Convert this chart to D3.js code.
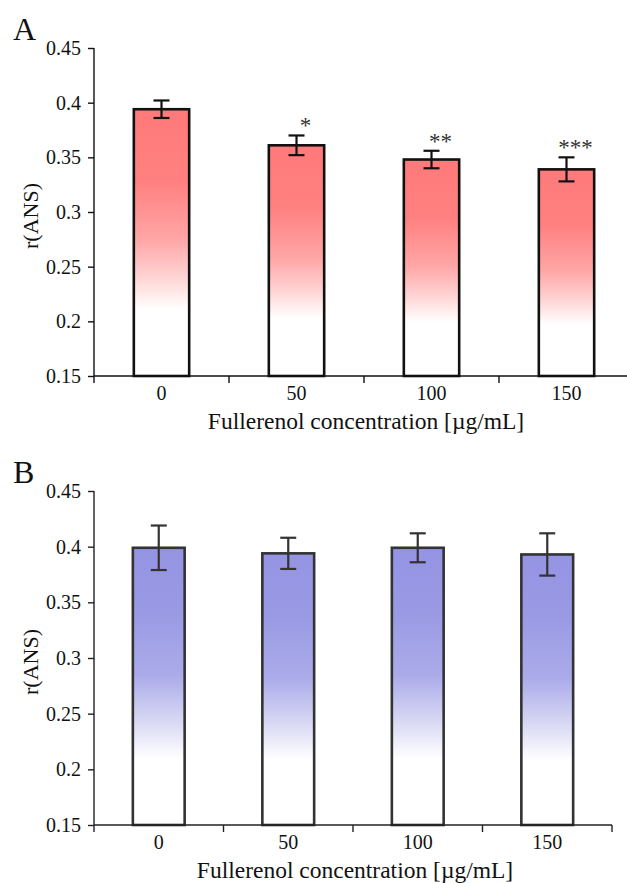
<!DOCTYPE html>
<html><head><meta charset="utf-8">
<script src="https://cdn.jsdelivr.net/npm/d3@7"></script>
<style>body{margin:0;background:#fff}svg{display:block}text{font-family:"Liberation Serif","Times New Roman",serif}</style>
</head><body><svg id="c" width="627" height="883"></svg>
<script>
const categories = ["0", "50", "100", "150"];
const valuesA = [0.394, 0.361, 0.348, 0.339];
const errorsA = [0.008, 0.009, 0.008, 0.011];
const starsA = ["", "*", "**", "***"];
const valuesB = [0.399, 0.394, 0.399, 0.393];
const errorsB = [0.020, 0.014, 0.013, 0.019];
const starsB = ["", "", "", ""];
const yTicks = [0.15, 0.2, 0.25, 0.3, 0.35, 0.4, 0.45];
const yTickLabels = ["0.15", "0.2", "0.25", "0.3", "0.35", "0.4", "0.45"];
const xTitle = "Fullerenol concentration [µg/mL]";
const yTitle = "r(ANS)";

const svg = d3.select("#c");
const defs = svg.append("defs");

function gradient(id, stops) {
  const g = defs.append("linearGradient").attr("id", id).attr("x1", 0).attr("y1", 0).attr("x2", 0).attr("y2", 1);
  stops.forEach(s => g.append("stop").attr("offset", s[0]).attr("stop-color", s[1]));
}
gradient("gA", [[0, "#ff7a7a"], [0.27, "#ff8080"], [0.49, "#ffa6a6"], [0.62, "#ffd0d0"], [0.75, "#ffffff"], [1, "#ffffff"]]);
gradient("gB", [[0, "#9494e3"], [0.22, "#9999e4"], [0.46, "#ababea"], [0.64, "#dcdcf5"], [0.76, "#ffffff"], [1, "#ffffff"]]);

function panel(o) {
  const g = svg.append("g");
  const y = d3.scaleLinear().domain([0.15, 0.45]).range([o.y0, o.y1]);
  const x = d3.scaleBand().domain(categories).range([o.x0, o.x1]).paddingInner(o.pad).paddingOuter(o.pad / 2);
  const xb = d3.scaleBand().domain(categories).range([o.x0, o.x1]);

  g.selectAll("rect.bar").data(o.values).join("rect")
    .attr("x", (d, i) => x(categories[i]))
    .attr("y", d => y(d))
    .attr("width", x.bandwidth())
    .attr("height", d => y(0.15) - y(d))
    .attr("fill", `url(#${o.grad})`)
    .attr("stroke", o.stroke).attr("stroke-width", 2.6);

  const eb = g.selectAll("g.err").data(o.values).join("g")
    .attr("transform", (d, i) => `translate(${x(categories[i]) + x.bandwidth() / 2},0)`);
  eb.append("line").attr("y1", (d, i) => y(d + o.errors[i])).attr("y2", (d, i) => y(d - o.errors[i]))
    .attr("stroke", o.stroke).attr("stroke-width", 2.2);
  eb.append("line").attr("x1", -8).attr("x2", 8).attr("y1", (d, i) => y(d + o.errors[i])).attr("y2", (d, i) => y(d + o.errors[i]))
    .attr("stroke", o.stroke).attr("stroke-width", 2.2);
  eb.append("line").attr("x1", -8).attr("x2", 8).attr("y1", (d, i) => y(d - o.errors[i])).attr("y2", (d, i) => y(d - o.errors[i]))
    .attr("stroke", o.stroke).attr("stroke-width", 2.2);
  eb.append("text").text((d, i) => o.stars[i])
    .attr("x", 9).attr("y", (d, i) => y(d + o.errors[i]) - 2)
    .attr("text-anchor", "middle").attr("font-size", 23).attr("fill", "#333");

  const ya = g.append("g").attr("transform", `translate(${o.x0},0)`)
    .call(d3.axisLeft(y).tickValues(yTicks).tickFormat((d, i) => yTickLabels[i]).tickSize(6).tickPadding(7));
  ya.select(".domain").attr("stroke", o.axis).attr("stroke-width", 1.4).attr("d", `M0,${o.y1}V${o.y0}`);
  ya.selectAll(".tick line").attr("stroke", o.axis).attr("stroke-width", 1.4);
  ya.selectAll(".tick text").attr("font-size", 20).attr("fill", "#111").attr("font-family", "Liberation Serif");

  const xa = g.append("g").attr("transform", `translate(0,${o.y0})`);
  xa.append("line").attr("x1", o.x0).attr("x2", Math.min(o.x1, 627)).attr("stroke", o.axis).attr("stroke-width", 1.4);
  xa.selectAll("line.t").data(categories).join("line").attr("class", "t")
    .attr("x1", d => xb(d)).attr("x2", d => xb(d)).attr("y1", 0).attr("y2", 7)
    .attr("stroke", o.axis).attr("stroke-width", 1.4);
  if (o.endTick) xa.append("line").attr("x1", o.x1).attr("x2", o.x1).attr("y1", 0).attr("y2", 7).attr("stroke", o.axis).attr("stroke-width", 1.4);
  xa.selectAll("text.l").data(categories).join("text").attr("class", "l")
    .attr("x", d => xb(d) + xb.bandwidth() / 2).attr("y", 24)
    .attr("text-anchor", "middle").attr("font-size", 20).attr("fill", "#111").text(d => d);

  g.append("text").attr("x", (o.x0 + o.x1) / 2 + 2).attr("y", o.y0 + 53)
    .attr("text-anchor", "middle").attr("font-size", 23.5).attr("fill", "#111").text(xTitle);
  g.append("text").attr("transform", `translate(38,${(o.y0 + o.y1) / 2 + 4}) rotate(-90)`)
    .attr("text-anchor", "middle").attr("font-size", 22).attr("fill", "#111").text(yTitle);
  g.append("text").attr("x", 13).attr("y", o.ly).attr("font-size", 32).attr("fill", "#111").text(o.label);
}

panel({ values: valuesA, errors: errorsA, stars: starsA, y0: 376, y1: 48, x0: 94, x1: 634, pad: 0.59,
  grad: "gA", stroke: "#111", axis: "#111", label: "A", ly: 40, endTick: false });
panel({ values: valuesB, errors: errorsB, stars: starsB, y0: 825, y1: 491, x0: 94, x1: 612, pad: 0.6,
  grad: "gB", stroke: "#333", axis: "#222", label: "B", ly: 483, endTick: true });
</script></body></html>
